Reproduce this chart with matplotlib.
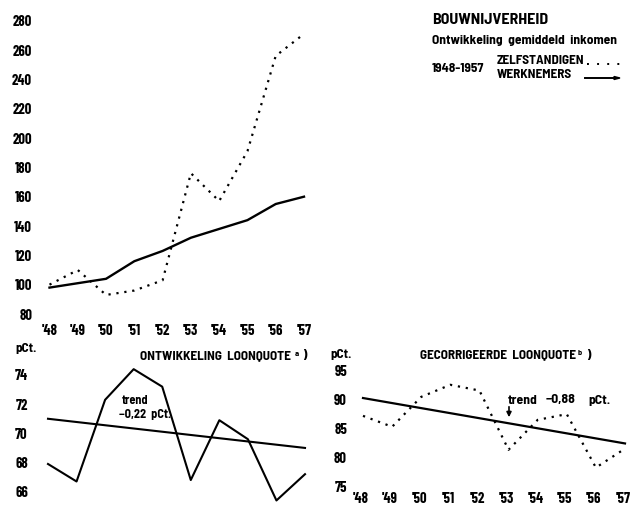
import numpy as np
import matplotlib
matplotlib.use("Agg")
import matplotlib.pyplot as plt
from matplotlib.transforms import ScaledTranslation

W, H = 630, 507

years = [1948, 1949, 1950, 1951, 1952, 1953, 1954, 1955, 1956, 1957]
year_labels = ["'48", "'49", "'50", "'51", "'52", "'53", "'54", "'55", "'56", "'57"]

# inkomen, index 1948 = 100
zelfstandigen = [100, 110, 93, 96, 103, 176, 157, 191, 256, 271]
werknemers = [98, 101, 104, 116, 123, 132, 138, 144, 155, 160]

# loonquote a)
loonquote = [67.9, 66.7, 72.3, 74.4, 73.2, 66.8, 70.9, 69.6, 65.4, 67.2]
trend_a = [71.0, 69.0]   # begin en eind, -0,22 pCt per jaar

# gecorrigeerde loonquote b)
gecorr = [87.2, 85.3, 90.5, 92.6, 91.6, 81.3, 86.5, 87.5, 78.2, 81.5]
trend_b = [90.3, 82.4]   # -0,88 pCt per jaar

top_yticks = [80, 100, 120, 140, 160, 180, 200, 220, 240, 260, 280]
bl_yticks = [66, 68, 70, 72, 74]
br_yticks = [75, 80, 85, 90, 95]

NUMFONT = ['Barlow Condensed', 'DejaVu Sans']
TXTFONT = ['Barlow Semi Condensed', 'Barlow Condensed', 'DejaVu Sans']
DOT = (0, (1, 2.6))
TICKSIZE = 10.5


def place(x0, x1, ytop, ybot):
    return [x0 / W, 1 - ybot / H, (x1 - x0) / W, (ybot - ytop) / H]


def bare(ax):
    for s in ax.spines.values():
        s.set_visible(False)
    ax.set_facecolor('none')


def boldticks(ax):
    for t in ax.get_xticklabels() + ax.get_yticklabels():
        t.set_fontweight('bold')
        t.set_family(NUMFONT)
        t.set_fontstretch('condensed')


def ftext(x, y, s, size=9.5, **kw):
    # tekst in pixelcoordinaten (vanaf linksboven)
    fig.text(x / W, 1 - y / H, s, family=TXTFONT, fontweight='bold', fontstretch='semi-condensed',
             fontsize=size, va='center', color='black', **kw)


fig = plt.figure(figsize=(W / 100, H / 100), dpi=100)

############ bovenste grafiek
ax1 = fig.add_axes(place(49.5, 304, 20.7, 314))
bare(ax1)
ax1.plot(years, zelfstandigen, color='black', lw=1.6, linestyle=DOT, clip_on=False)
ax1.plot(years, werknemers, color='black', lw=1.7, clip_on=False)
ax1.set_xlim(1948, 1957)
ax1.set_ylim(80, 280)
ax1.set_xticks(years, year_labels)
ax1.set_yticks(top_yticks)
ax1.tick_params(length=0, labelsize=TICKSIZE)
ax1.tick_params(axis='y', pad=12.5)
ax1.tick_params(axis='x', pad=7.5)
boldticks(ax1)

############ linksonder
ax2 = fig.add_axes(place(48, 305, 375, 491.7))
bare(ax2)
ax2.plot(years, loonquote, color='black', lw=1.5, clip_on=False)
ax2.plot([years[0], years[-1]], trend_a, color='black', lw=1.5, clip_on=False)
ax2.set_xlim(1948, 1957)
ax2.set_ylim(66, 74)
ax2.set_xticks([])
ax2.set_yticks(bl_yticks)
ax2.tick_params(length=0, labelsize=TICKSIZE, pad=14.5)
boldticks(ax2)

############ rechtsonder
ax3 = fig.add_axes(place(363, 625, 371, 486))
bare(ax3)
ax3.plot(years, gecorr, color='black', lw=1.6, linestyle=DOT, clip_on=False)
ax3.plot([years[0], years[-1]], trend_b, color='black', lw=1.6, clip_on=False)
ax3.set_xlim(1948, 1957)
ax3.set_ylim(75, 95)
ax3.set_xticks(years, year_labels)
ax3.set_yticks(br_yticks)
ax3.tick_params(length=0, labelsize=TICKSIZE)
ax3.tick_params(axis='y', pad=11.5)
ax3.tick_params(axis='x', pad=4)
boldticks(ax3)
shift = ScaledTranslation(-2 / 100, 0, fig.dpi_scale_trans)
for t in ax3.get_xticklabels():
    t.set_transform(t.get_transform() + shift)

############ teksten
ftext(432, 20, 'BOUWNIJVERHEID', size=11.5)
ftext(432, 40, 'Ontwikkeling  gemiddeld  inkomen', size=9.7)
ftext(432, 69, '1948-1957', size=9.5)
ftext(497, 61, 'ZELFSTANDIGEN', size=9.5)
ftext(497, 74, 'WERKNEMERS', size=9.5)
fig.add_artist(plt.Line2D([587 / W, 620 / W], [1 - 64 / H, 1 - 64 / H], color='black',
                          lw=1.4, linestyle=(0, (1, 4.2))))
fig.add_artist(plt.Line2D([585 / W, 616 / W], [1 - 78 / H, 1 - 78 / H], color='black', lw=1.4))
fig.add_artist(plt.Polygon([[614 / W, 1 - 76.5 / H], [620 / W, 1 - 78 / H], [614 / W, 1 - 79.5 / H]],
                           closed=True, color='black'))

ftext(15, 348, 'pCt.', size=9.5)
ftext(140, 356, 'ONTWIKKELING  LOONQUOTE', size=9.5)
ftext(295, 354, 'a', size=6)
ftext(302, 356, ')', size=9.5)
ftext(122, 401, 'trend', size=8.8)
ftext(119, 414, '\u22120,22  pCt.', size=8.8)

ftext(330, 355, 'pCt.', size=9.5)
ftext(420, 355, 'GECORRIGEERDE  LOONQUOTE', size=9.5)
ftext(578, 353, 'b', size=6)
ftext(586, 355, ')', size=9.5)
ftext(508, 400, 'trend', size=9.8)
ftext(546, 400, '\u22120,88', size=9.8)
ftext(588, 400, 'pCt.', size=9.8)
fig.add_artist(matplotlib.patches.FancyArrowPatch((509 / W, 1 - 404 / H), (509 / W, 1 - 420 / H),
                                                   transform=fig.transFigure, arrowstyle='-|>',
                                                   mutation_scale=7, color='black', lw=1.2))

fig.savefig('out.png', dpi=100)
